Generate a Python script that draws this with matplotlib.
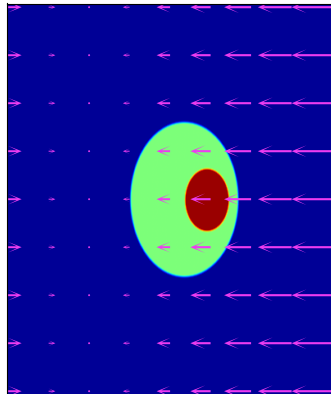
import numpy as np
import matplotlib
matplotlib.use('Agg')
import matplotlib.pyplot as plt

# quiver grid (9 x 9), horizontal flow only
x_pts = [0, 1, 2, 3, 4, 5, 6, 7, 8]
y_pts = [0, 1, 2, 3, 4, 5, 6, 7, 8]
u_col = [2, 1, 0, -1, -2, -3, -4, -5, -6]   # same in every row
v_col = [0, 0, 0, 0, 0, 0, 0, 0, 0]

# background field: level outside, in outer ellipse, in inner ellipse
levels = [0.02, 0.5, 0.975]
outer = {"cx": 4.33, "cy": 4.01, "a": 1.33, "b": 1.61}
inner = {"cx": 4.89, "cy": 4.02, "a": 0.54, "b": 0.65}

XLIM = (-0.04, 8.04)
YLIM = (8.077, -0.077)

# image grid
nx, ny = 400, 400
gx = np.linspace(XLIM[0], XLIM[1], nx)
gy = np.linspace(YLIM[1], YLIM[0], ny)
GX, GY = np.meshgrid(gx, gy)


def weight(e, soft=0.04):
    # 1 inside, 0 outside, with a soft rim
    r = np.sqrt(((GX - e["cx"]) / e["a"]) ** 2 + ((GY - e["cy"]) / e["b"]) ** 2)
    return np.clip((1 - r) / soft + 0.5, 0, 1)


w_out = weight(outer)
w_in = weight(inner, soft=0.07)
field = levels[0] + (levels[1] - levels[0]) * w_out
field = field + (levels[2] - levels[1]) * w_in

X, Y = np.meshgrid(x_pts, y_pts)
U = np.tile(u_col, (len(y_pts), 1))
V = np.tile(v_col, (len(y_pts), 1))

fig = plt.figure(figsize=(3.31, 3.94), dpi=100)
ax = fig.add_axes([6.5 / 331, -0.9 / 394, 327.2 / 331, 391.4 / 394])

ax.imshow(field, cmap='jet', vmin=0, vmax=1, origin='upper',
          extent=(XLIM[0], XLIM[1], YLIM[0], YLIM[1]),
          aspect='auto', interpolation='bilinear')
ax.quiver(X, Y, U, V, color='#ec3cf0', angles='xy', scale_units='xy',
          scale=6.0, width=0.0065, headwidth=5.5, headlength=7,
          headaxislength=2.5)

ax.set_xlim(XLIM)
ax.set_ylim(YLIM)
ax.set_xticks([])
ax.set_yticks([])

fig.savefig('out.png', dpi=100)
